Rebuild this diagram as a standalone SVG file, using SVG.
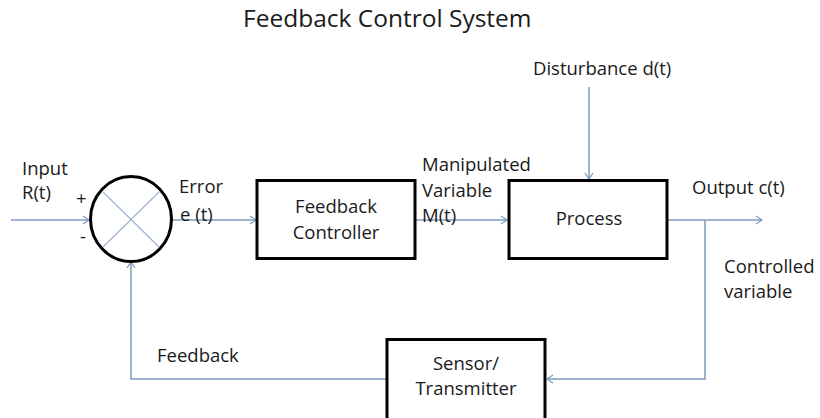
<svg xmlns="http://www.w3.org/2000/svg" width="820" height="418" viewBox="0 0 820 418">
  <defs>
    <style>
      text { font-family: "Open Sans", "Noto Sans", "Liberation Sans", sans-serif; font-size: 18.5px; fill: #1a1a1a; }
      .title { font-size: 24.5px; }
      .mid { text-anchor: middle; }
      .block { fill: #ffffff; stroke: #000000; stroke-width: 3; }
      .wire { fill: none; stroke: #7f9bbf; stroke-width: 1.5; }
      .cross { fill: none; stroke: #9fb3d1; stroke-width: 1.2; }
    </style>
    <marker id="arrow" viewBox="0 0 8 10" refX="7" refY="5" markerWidth="8" markerHeight="10" markerUnits="userSpaceOnUse" orient="auto">
      <path d="M1,1 L7,5 L1,9" fill="none" stroke="#7f9bbf" stroke-width="1.3"/>
    </marker>
  </defs>

  <rect width="820" height="418" fill="#ffffff"/>

  <text class="title" x="243" y="27">Feedback Control System</text>

  <!-- signal lines -->
  <g id="connectors">
    <line class="wire" x1="11" y1="220" x2="89" y2="220" marker-end="url(#arrow)"/>
    <line class="wire" x1="172" y1="220" x2="256" y2="220" marker-end="url(#arrow)"/>
    <line class="wire" x1="416" y1="220" x2="507" y2="220" marker-end="url(#arrow)"/>
    <line class="wire" x1="589" y1="87" x2="589" y2="179" marker-end="url(#arrow)"/>
    <line class="wire" x1="668" y1="220" x2="762" y2="220" marker-end="url(#arrow)"/>
    <polyline class="wire" points="705,220 705,379 547,379" marker-end="url(#arrow)"/>
    <polyline class="wire" points="386,379 131,379 131,262" marker-end="url(#arrow)"/>
  </g>

  <!-- summing junction -->
  <g id="summer">
    <ellipse cx="131" cy="219" rx="40.5" ry="42.5" fill="#ffffff" stroke="#000000" stroke-width="3"/>
    <line class="cross" x1="103" y1="192" x2="159" y2="247"/>
    <line class="cross" x1="159" y1="192" x2="103" y2="247"/>
    <text x="76" y="205">+</text>
    <text x="80" y="243">-</text>
  </g>

  <g id="controller">
    <rect class="block" x="257" y="180.5" width="158" height="78"/>
    <text class="mid" x="336" y="213">Feedback</text>
    <text class="mid" x="336" y="239">Controller</text>
  </g>

  <g id="process">
    <rect class="block" x="509" y="180.5" width="158" height="78"/>
    <text class="mid" x="589" y="225">Process</text>
  </g>

  <g id="sensor">
    <rect class="block" x="387" y="339.5" width="158" height="82"/>
    <text class="mid" x="466" y="370">Sensor/</text>
    <text class="mid" x="466" y="395">Transmitter</text>
  </g>

  <!-- signal labels -->
  <g id="labels">
    <text x="22" y="175">Input</text>
    <text x="22" y="199">R(t)</text>
    <text x="179" y="193">Error</text>
    <text x="180" y="221">e (t)</text>
    <text x="422" y="171">Manipulated</text>
    <text x="422" y="197">Variable</text>
    <text x="422" y="222">M(t)</text>
    <text x="533" y="75">Disturbance d(t)</text>
    <text x="692" y="194">Output c(t)</text>
    <text x="724" y="273">Controlled</text>
    <text x="724" y="298">variable</text>
    <text x="157" y="362">Feedback</text>
  </g>
</svg>
